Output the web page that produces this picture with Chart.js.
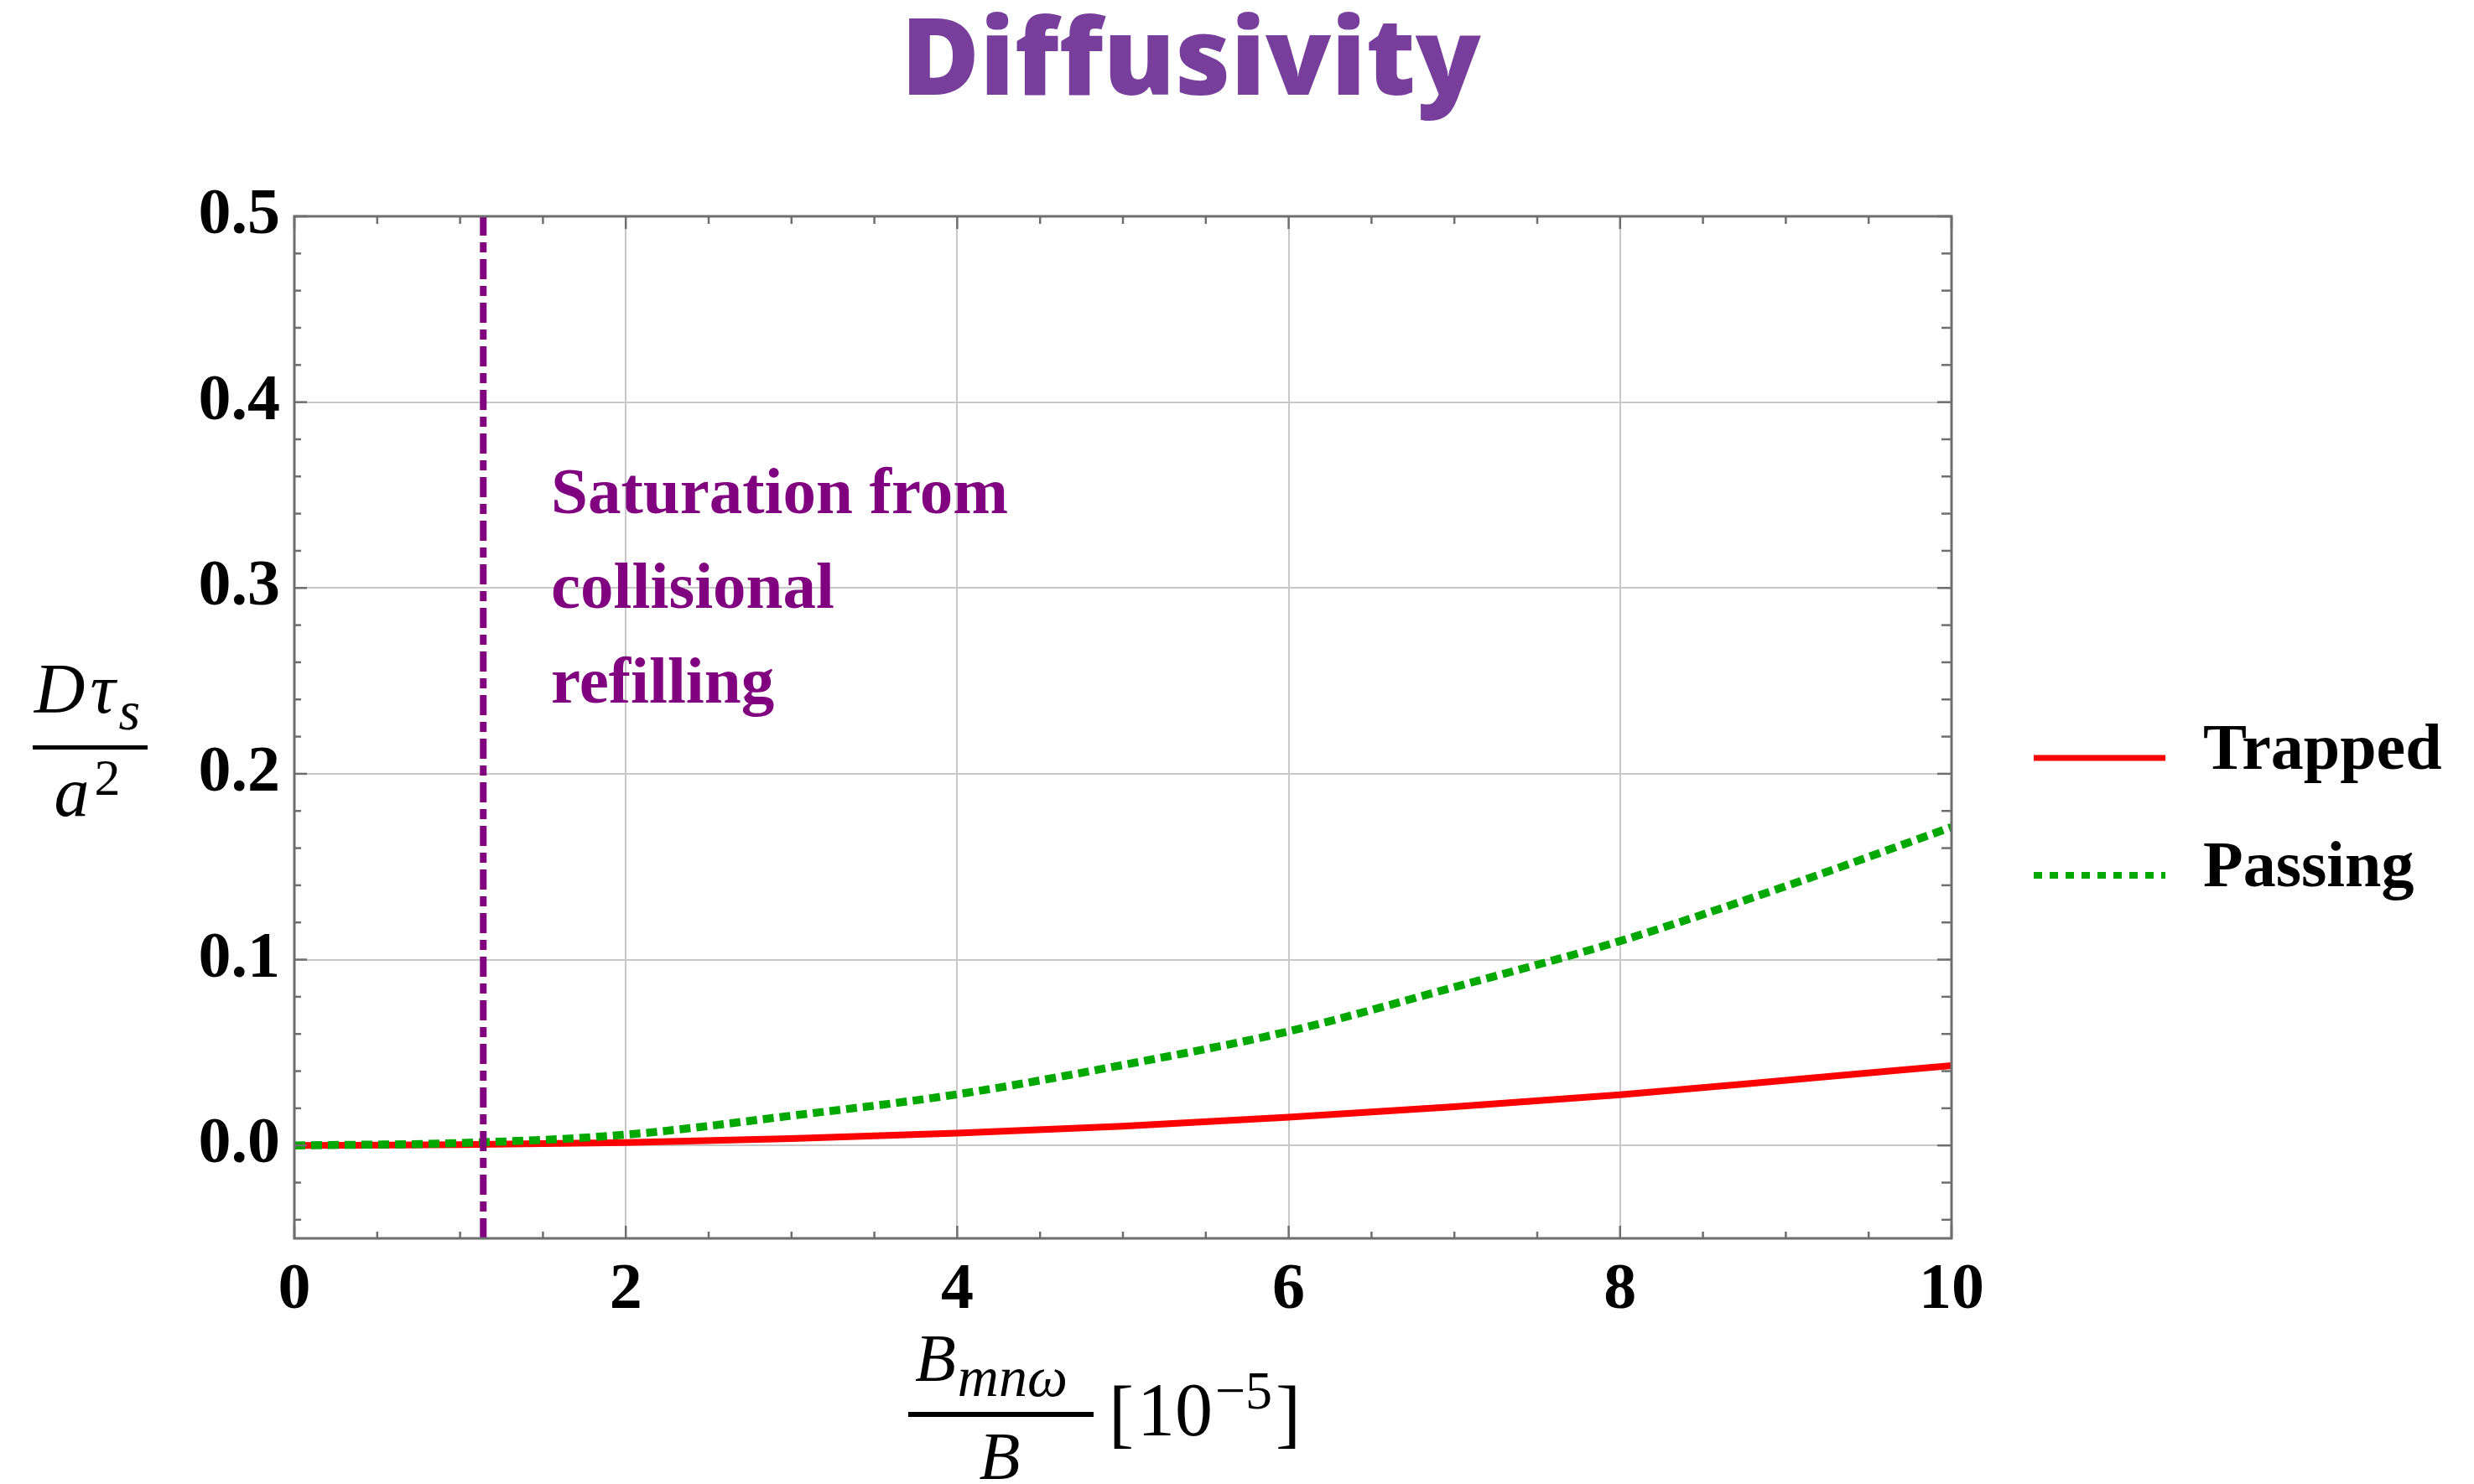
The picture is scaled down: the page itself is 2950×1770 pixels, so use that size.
<!DOCTYPE html>
<html>
<head>
<meta charset="utf-8">
<script src="https://cdn.jsdelivr.net/npm/chart.js@4.4.1/dist/chart.umd.min.js"></script>
<style>
  html, body { margin: 0; padding: 0; background: #ffffff; }
  #wrap { width: 2950px; height: 1770px; }
</style>
</head>
<body>
<div id="wrap"><canvas id="c" width="2950" height="1770"></canvas></div>
<script>
// ---------------- data ----------------
const xValues   = [0, 1, 2, 3, 4, 5, 6, 7, 8, 9, 10];
const trapped   = [0, 0.0004, 0.0016, 0.0037, 0.0066, 0.0104, 0.0152, 0.0208, 0.0273, 0.0350, 0.0430];
const passing   = [0, 0.0013, 0.0058, 0.0160, 0.0275, 0.0433, 0.0614, 0.0852, 0.1100, 0.1395, 0.1713];
const seriesNames = ['Trapped', 'Passing'];
const saturationX = 1.14;
const xRange = [0, 10];
const yRange = [-0.05, 0.5];
const xTickValues = [0, 2, 4, 6, 8, 10];
const yTickValues = [0.0, 0.1, 0.2, 0.3, 0.4, 0.5];
const xMinorValues = [0.5, 1, 1.5, 2.5, 3, 3.5, 4.5, 5, 5.5, 6.5, 7, 7.5, 8.5, 9, 9.5];
const yMinorValues = [-0.04, -0.02, 0.02, 0.04, 0.06, 0.08, 0.12, 0.14, 0.16, 0.18, 0.22, 0.24, 0.26, 0.28,
                      0.32, 0.34, 0.36, 0.38, 0.42, 0.44, 0.46, 0.48];
const titleText = 'Diffusivity';
const noteLines = ['Saturation from', 'collisional', 'refilling'];

// ---------------- styles ----------------
const RED = '#ff0000', GREEN = '#00a800', PURPLE = '#800080', TITLE_PURPLE = '#773f9b';
const FRAME = '#6e6e6e', GRID = '#c8c8c8';
const SERIF = '"Liberation Serif", "Times New Roman", serif';

function drawRich(ctx, parts, x, align) {
  let total = 0;
  parts.forEach(p => { ctx.font = p.font; p.w = ctx.measureText(p.t).width; total += p.w + (p.gap || 0); });
  let cx = align === 'center' ? x - total / 2 : x;
  parts.forEach(p => {
    ctx.font = p.font;
    ctx.fillText(p.t, cx, p.y);
    cx += p.w + (p.gap || 0);
  });
  return total;
}

const decor = {
  id: 'decor',
  afterDraw(chart) {
    const ctx = chart.ctx;
    const xs = chart.scales.x, ys = chart.scales.y;
    const a = chart.chartArea;
    ctx.save();

    // frame
    ctx.strokeStyle = FRAME;
    ctx.lineWidth = 3;
    ctx.strokeRect(a.left, a.top, a.right - a.left, a.bottom - a.top);

    // inward ticks
    ctx.lineWidth = 2.5;
    const tick = (x1, y1, x2, y2) => { ctx.beginPath(); ctx.moveTo(x1, y1); ctx.lineTo(x2, y2); ctx.stroke(); };
    xTickValues.forEach(v => {
      const p = xs.getPixelForValue(v);
      tick(p, a.bottom, p, a.bottom - 15);
      tick(p, a.top, p, a.top + 15);
    });
    xMinorValues.forEach(v => {
      const p = xs.getPixelForValue(v);
      tick(p, a.bottom, p, a.bottom - 8);
      tick(p, a.top, p, a.top + 9);
    });
    yTickValues.forEach(v => {
      const p = ys.getPixelForValue(v);
      tick(a.left, p, a.left + 15, p);
      tick(a.right, p, a.right - 17, p);
    });
    yMinorValues.forEach(v => {
      const p = ys.getPixelForValue(v);
      tick(a.left, p, a.left + 8, p);
      tick(a.right, p, a.right - 12, p);
    });

    // title
    ctx.fillStyle = TITLE_PURPLE;
    ctx.textAlign = 'center';
    ctx.textBaseline = 'alphabetic';
    ctx.font = '800 128px "Open Sans", sans-serif';
    ctx.fillText(titleText, 1420, 113);

    // annotation
    ctx.textAlign = 'left';
    ctx.fillStyle = PURPLE;
    ctx.font = 'bold 79px ' + SERIF;
    noteLines.forEach((t, i) => ctx.fillText(t, 657, 612 + i * 113));

    // legend
    const ds = chart.data.datasets;
    ctx.lineCap = 'butt';
    ctx.strokeStyle = ds[0].borderColor;
    ctx.lineWidth = 7;
    ctx.setLineDash([]);
    tick(2425, 904, 2582, 904);
    ctx.strokeStyle = ds[1].borderColor;
    ctx.lineWidth = 8;
    ctx.setLineDash([10, 9]);
    tick(2425, 1044, 2582, 1044);
    ctx.setLineDash([]);
    ctx.fillStyle = '#000';
    ctx.font = 'bold 78px ' + SERIF;
    ctx.fillText(seriesNames[0], 2627, 917);
    ctx.fillText(seriesNames[1], 2627, 1057);

    // y-axis title: D tau_s / a^2
    ctx.fillStyle = '#000';
    ctx.textAlign = 'left';
    const itF = 'italic 84px ' + SERIF;
    const itS = 'italic 66px ' + SERIF;
    drawRich(ctx, [
      { t: 'D', font: itF, y: 850, gap: 6 },
      { t: 'τ', font: itF, y: 850, gap: 4 },
      { t: 's', font: itS, y: 870 }
    ], 104, 'center');
    ctx.fillRect(39, 889, 137, 5);
    drawRich(ctx, [
      { t: 'a', font: itF, y: 973, gap: 6 },
      { t: '2', font: '62px ' + SERIF, y: 948 }
    ], 104, 'center');

    // x-axis title: B_mn omega / B [10^-5]
    drawRich(ctx, [
      { t: 'B', font: 'italic 80px ' + SERIF, y: 1647, gap: 2 },
      { t: 'mnω', font: 'italic 68px ' + SERIF, y: 1665, gap: 0 }
    ], 1182, 'center');
    ctx.fillRect(1083, 1684, 221, 6);
    drawRich(ctx, [{ t: 'B', font: 'italic 80px ' + SERIF, y: 1764 }], 1192, 'center');
    drawRich(ctx, [
      { t: '[', font: '90px ' + SERIF, y: 1716, gap: 4 },
      { t: '10', font: '90px ' + SERIF, y: 1712, gap: 3 },
      { t: '−5', font: '64px ' + SERIF, y: 1680, gap: 4 },
      { t: ']', font: '90px ' + SERIF, y: 1716 }
    ], 1322, 'left');

    ctx.restore();
  }
};

const ctx = document.getElementById('c').getContext('2d');
new Chart(ctx, {
  type: 'line',
  data: {
    datasets: [
      {
        label: seriesNames[0],
        data: xValues.map((x, i) => ({ x, y: trapped[i] })),
        borderColor: RED, borderWidth: 8, pointRadius: 0,
        cubicInterpolationMode: 'monotone', fill: false, order: 2
      },
      {
        label: seriesNames[1],
        data: xValues.map((x, i) => ({ x, y: passing[i] })),
        borderColor: GREEN, borderWidth: 9.5, borderDash: [13, 7], borderCapStyle: 'butt',
        pointRadius: 0, cubicInterpolationMode: 'monotone', fill: false, order: 1
      },
      {
        label: 'saturation',
        data: [{ x: saturationX, y: yRange[0] }, { x: saturationX, y: yRange[1] }],
        borderColor: PURPLE, borderWidth: 8, borderDash: [24, 8, 12, 8], borderCapStyle: 'butt',
        pointRadius: 0, fill: false, order: 0
      }
    ]
  },
  options: {
    responsive: false,
    animation: false,
    events: [],
    layout: { padding: { left: 0, top: 258, right: 623, bottom: 0 } },
    plugins: { legend: { display: false }, title: { display: false }, tooltip: { enabled: false } },
    scales: {
      x: {
        type: 'linear', min: xRange[0], max: xRange[1],
        afterBuildTicks: s => { s.ticks = xTickValues.map(v => ({ value: v })); },
        afterFit: s => { s.height = 293; },
        ticks: {
          font: { size: 78, weight: 'bold', family: SERIF }, color: '#000',
          padding: 16, maxRotation: 0, autoSkip: false,
          callback: v => String(v)
        },
        grid: { color: GRID, lineWidth: 2, drawTicks: false },
        border: { display: false }
      },
      y: {
        type: 'linear', min: yRange[0], max: yRange[1],
        afterBuildTicks: s => { s.ticks = yTickValues.map(v => ({ value: v })); },
        afterFit: s => { s.width = 351; },
        ticks: {
          font: { size: 78, weight: 'bold', family: SERIF }, color: '#000',
          padding: 17, autoSkip: false,
          callback: v => Number(v).toFixed(1)
        },
        grid: { color: GRID, lineWidth: 2, drawTicks: false },
        border: { display: false }
      }
    }
  },
  plugins: [decor]
});
</script>
</body>
</html>
